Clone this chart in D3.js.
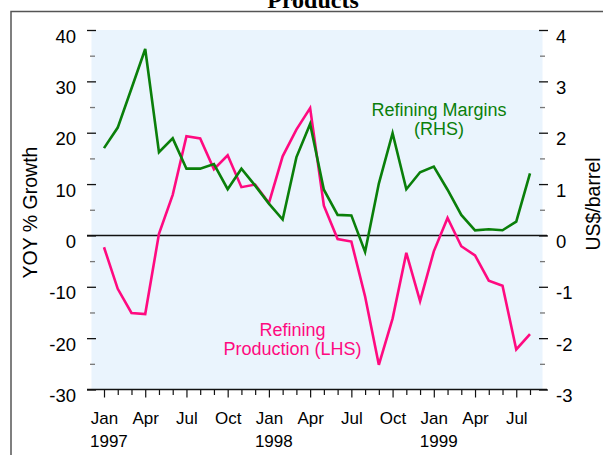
<!DOCTYPE html>
<html>
<head>
<meta charset="utf-8">
<script src="https://d3js.org/d3.v7.min.js"></script>
<style>
  body { margin: 0; background: white; }
  svg text { font-family: "Liberation Sans", Arial, sans-serif; }
</style>
</head>
<body>
<svg id="canvas" width="603" height="455"></svg>
<script>
// monthly data, Jan 1997 - Aug 1999
const months = ['Jan 97','Feb 97','Mar 97','Apr 97','May 97','Jun 97','Jul 97','Aug 97','Sep 97','Oct 97','Nov 97','Dec 97',
                'Jan 98','Feb 98','Mar 98','Apr 98','May 98','Jun 98','Jul 98','Aug 98','Sep 98','Oct 98','Nov 98','Dec 98',
                'Jan 99','Feb 99','Mar 99','Apr 99','May 99','Jun 99','Jul 99','Aug 99']
// refining production, YOY % growth (LHS)
const production = [-2.3, -10.4, -15.1, -15.3, 0.3, 7.9, 19.3, 18.9, 12.9, 15.6, 9.4, 9.9,
                    6.3, 15.4, 20.6, 24.8, 5.8, -0.7, -1.2, -11.9, -25.2, -16.2, -3.4, -12.8,
                    -3.1, 3.4, -2.1, -3.9, -8.8, -9.8, -22.2, -19.2]
// refining margins, US$/barrel (RHS)
const margins = [1.70, 2.10, 2.86, 3.63, 1.62, 1.89, 1.30, 1.30, 1.39, 0.90, 1.30, 0.97,
                 0.62, 0.31, 1.52, 2.17, 0.89, 0.40, 0.39, -0.32, 1.01, 1.99, 0.90, 1.23,
                 1.34, 0.89, 0.40, 0.10, 0.12, 0.10, 0.27, 1.21]
const quarterLabels = ['Jan', 'Apr', 'Jul', 'Oct']
const yearLabels = ['1997', '1998', '1999']
const leftTicks = [-30, -20, -10, 0, 10, 20, 30, 40]
const rightTicks = [-3, -2, -1, 0, 1, 2, 3, 4]

const green = '#0a7f0a'
const pink = '#ff0a80'
const plotFill = '#eaf4fd'

const svg = d3.select('#canvas')

// plot box
const box = { left: 91.5, right: 542.5, top: 30, bottom: 389.5 }

const x = d3.scaleLinear().domain([0, months.length - 1]).range([104, 530])
const yL = d3.scaleLinear().domain([-30, 40]).range([box.bottom, box.top])
const yR = d3.scaleLinear().domain([-3, 4]).range([box.bottom, box.top])

// plain hyphen for negatives, like the original
const fmt = d => String(d)

// outer frame
svg.append('rect')
    .attr('x', 11).attr('y', 11.5)
    .attr('width', 620).attr('height', 470)
    .attr('fill', 'none').attr('stroke', '#555').attr('stroke-width', 1.5)

// title (clipped at top in the original)
svg.append('text').text('Products')
    .attr('x', 313).attr('y', 7.5)
    .attr('text-anchor', 'middle')
    .style('font-family', '"Liberation Serif", "Times New Roman", serif')
    .style('font-weight', 'bold')
    .style('font-size', '24px')

svg.append('rect')
    .attr('x', box.left).attr('y', box.top)
    .attr('width', box.right - box.left).attr('height', box.bottom - box.top)
    .attr('fill', plotFill)

// left axis (labels sit a little below their ticks in the original)
const leftAxis = svg.append('g')
    .attr('transform', 'translate(96,0)')
    .call(d3.axisLeft(yL).tickValues(leftTicks).tickFormat(fmt)
        .tickSizeInner(9).tickSizeOuter(0).tickPadding(11))
leftAxis.select('.domain').remove()
leftAxis.selectAll('line').attr('stroke', '#111').attr('stroke-width', 1.3)
leftAxis.selectAll('text').style('font-size', '18.5px').attr('fill', '#000').attr('dy', '0.65em')

const leftMinor = svg.append('g')
    .attr('transform', 'translate(95,0)')
    .call(d3.axisLeft(yL).tickValues(leftTicks.slice(1).map(v => v - 5)).tickSize(5).tickFormat(''))
leftMinor.select('.domain').remove()
leftMinor.selectAll('line').attr('stroke', '#777').attr('stroke-width', 1.3)

// right axis
const rightAxis = svg.append('g')
    .attr('transform', 'translate(539,0)')
    .call(d3.axisRight(yR).tickValues(rightTicks).tickFormat(fmt)
        .tickSizeInner(9).tickSizeOuter(0).tickPadding(8))
rightAxis.select('.domain').remove()
rightAxis.selectAll('line').attr('stroke', '#111').attr('stroke-width', 1.3)
rightAxis.selectAll('text').style('font-size', '18.5px').attr('fill', '#000').attr('dy', '0.65em')

const rightMinor = svg.append('g')
    .attr('transform', 'translate(540,0)')
    .call(d3.axisRight(yR).tickValues(rightTicks.slice(1).map(v => v - 0.5)).tickSize(5).tickFormat(''))
rightMinor.select('.domain').remove()
rightMinor.selectAll('line').attr('stroke', '#777').attr('stroke-width', 1.3)

// bottom axis: monthly minor ticks, quarterly major ticks with labels
const idx = d3.range(months.length)
const bottomMinor = svg.append('g')
    .attr('transform', `translate(0,${box.bottom})`)
    .call(d3.axisBottom(x).tickValues(idx.filter(i => i % 3 !== 0)).tickSize(5.5).tickFormat(''))
bottomMinor.select('.domain').remove()
bottomMinor.selectAll('line').attr('stroke', '#111').attr('stroke-width', 1.2)

const bottomAxis = svg.append('g')
    .attr('transform', `translate(0,${box.bottom})`)
    .call(d3.axisBottom(x).tickValues(idx.filter(i => i % 3 === 0)).tickSize(8).tickPadding(14)
        .tickFormat(i => quarterLabels[(i % 12) / 3]))
bottomAxis.select('.domain').remove()
bottomAxis.selectAll('line').attr('stroke', '#111').attr('stroke-width', 1.2)
bottomAxis.selectAll('text').style('font-size', '17px').attr('fill', '#000')

svg.append('line')
    .attr('x1', 87).attr('x2', 547)
    .attr('y1', box.bottom).attr('y2', box.bottom)
    .attr('stroke', '#111').attr('stroke-width', 1.3)

svg.selectAll('.year').data(yearLabels).enter().append('text')
    .attr('class', 'year')
    .text(d => d)
    .attr('x', (d, i) => x(i * 12) - 14)
    .attr('y', 447)
    .style('font-size', '17px')

// axis titles
svg.append('text').text('YOY % Growth')
    .attr('transform', 'translate(37,212.5) rotate(-90)')
    .attr('text-anchor', 'middle')
    .style('font-size', '19.5px')

svg.append('text').text('US$/barrel')
    .attr('transform', 'translate(600,204) rotate(-90)')
    .attr('text-anchor', 'middle')
    .style('font-size', '19.5px')

// zero line
svg.append('line')
    .attr('x1', 87).attr('x2', 547)
    .attr('y1', yL(0)).attr('y2', yL(0))
    .attr('stroke', '#111').attr('stroke-width', 1.5)

// series
svg.append('path')
    .datum(production)
    .attr('fill', 'none')
    .attr('stroke', pink)
    .attr('stroke-width', 2.6)
    .attr('d', d3.line().x((d, i) => x(i)).y(d => yL(d)))

svg.append('path')
    .datum(margins)
    .attr('fill', 'none')
    .attr('stroke', green)
    .attr('stroke-width', 2.6)
    .attr('d', d3.line().x((d, i) => x(i)).y(d => yR(d)))

// series labels
const greenLabel = svg.append('text')
    .attr('text-anchor', 'middle')
    .attr('fill', green)
    .style('font-size', '18px')
greenLabel.append('tspan').attr('x', 439).attr('y', 116).text('Refining Margins')
greenLabel.append('tspan').attr('x', 439).attr('y', 135).text('(RHS)')

const pinkLabel = svg.append('text')
    .attr('text-anchor', 'middle')
    .attr('fill', pink)
    .style('font-size', '18px')
pinkLabel.append('tspan').attr('x', 292.5).attr('y', 336).text('Refining')
pinkLabel.append('tspan').attr('x', 292.5).attr('y', 354.5).text('Production (LHS)')
</script>
</body>
</html>
